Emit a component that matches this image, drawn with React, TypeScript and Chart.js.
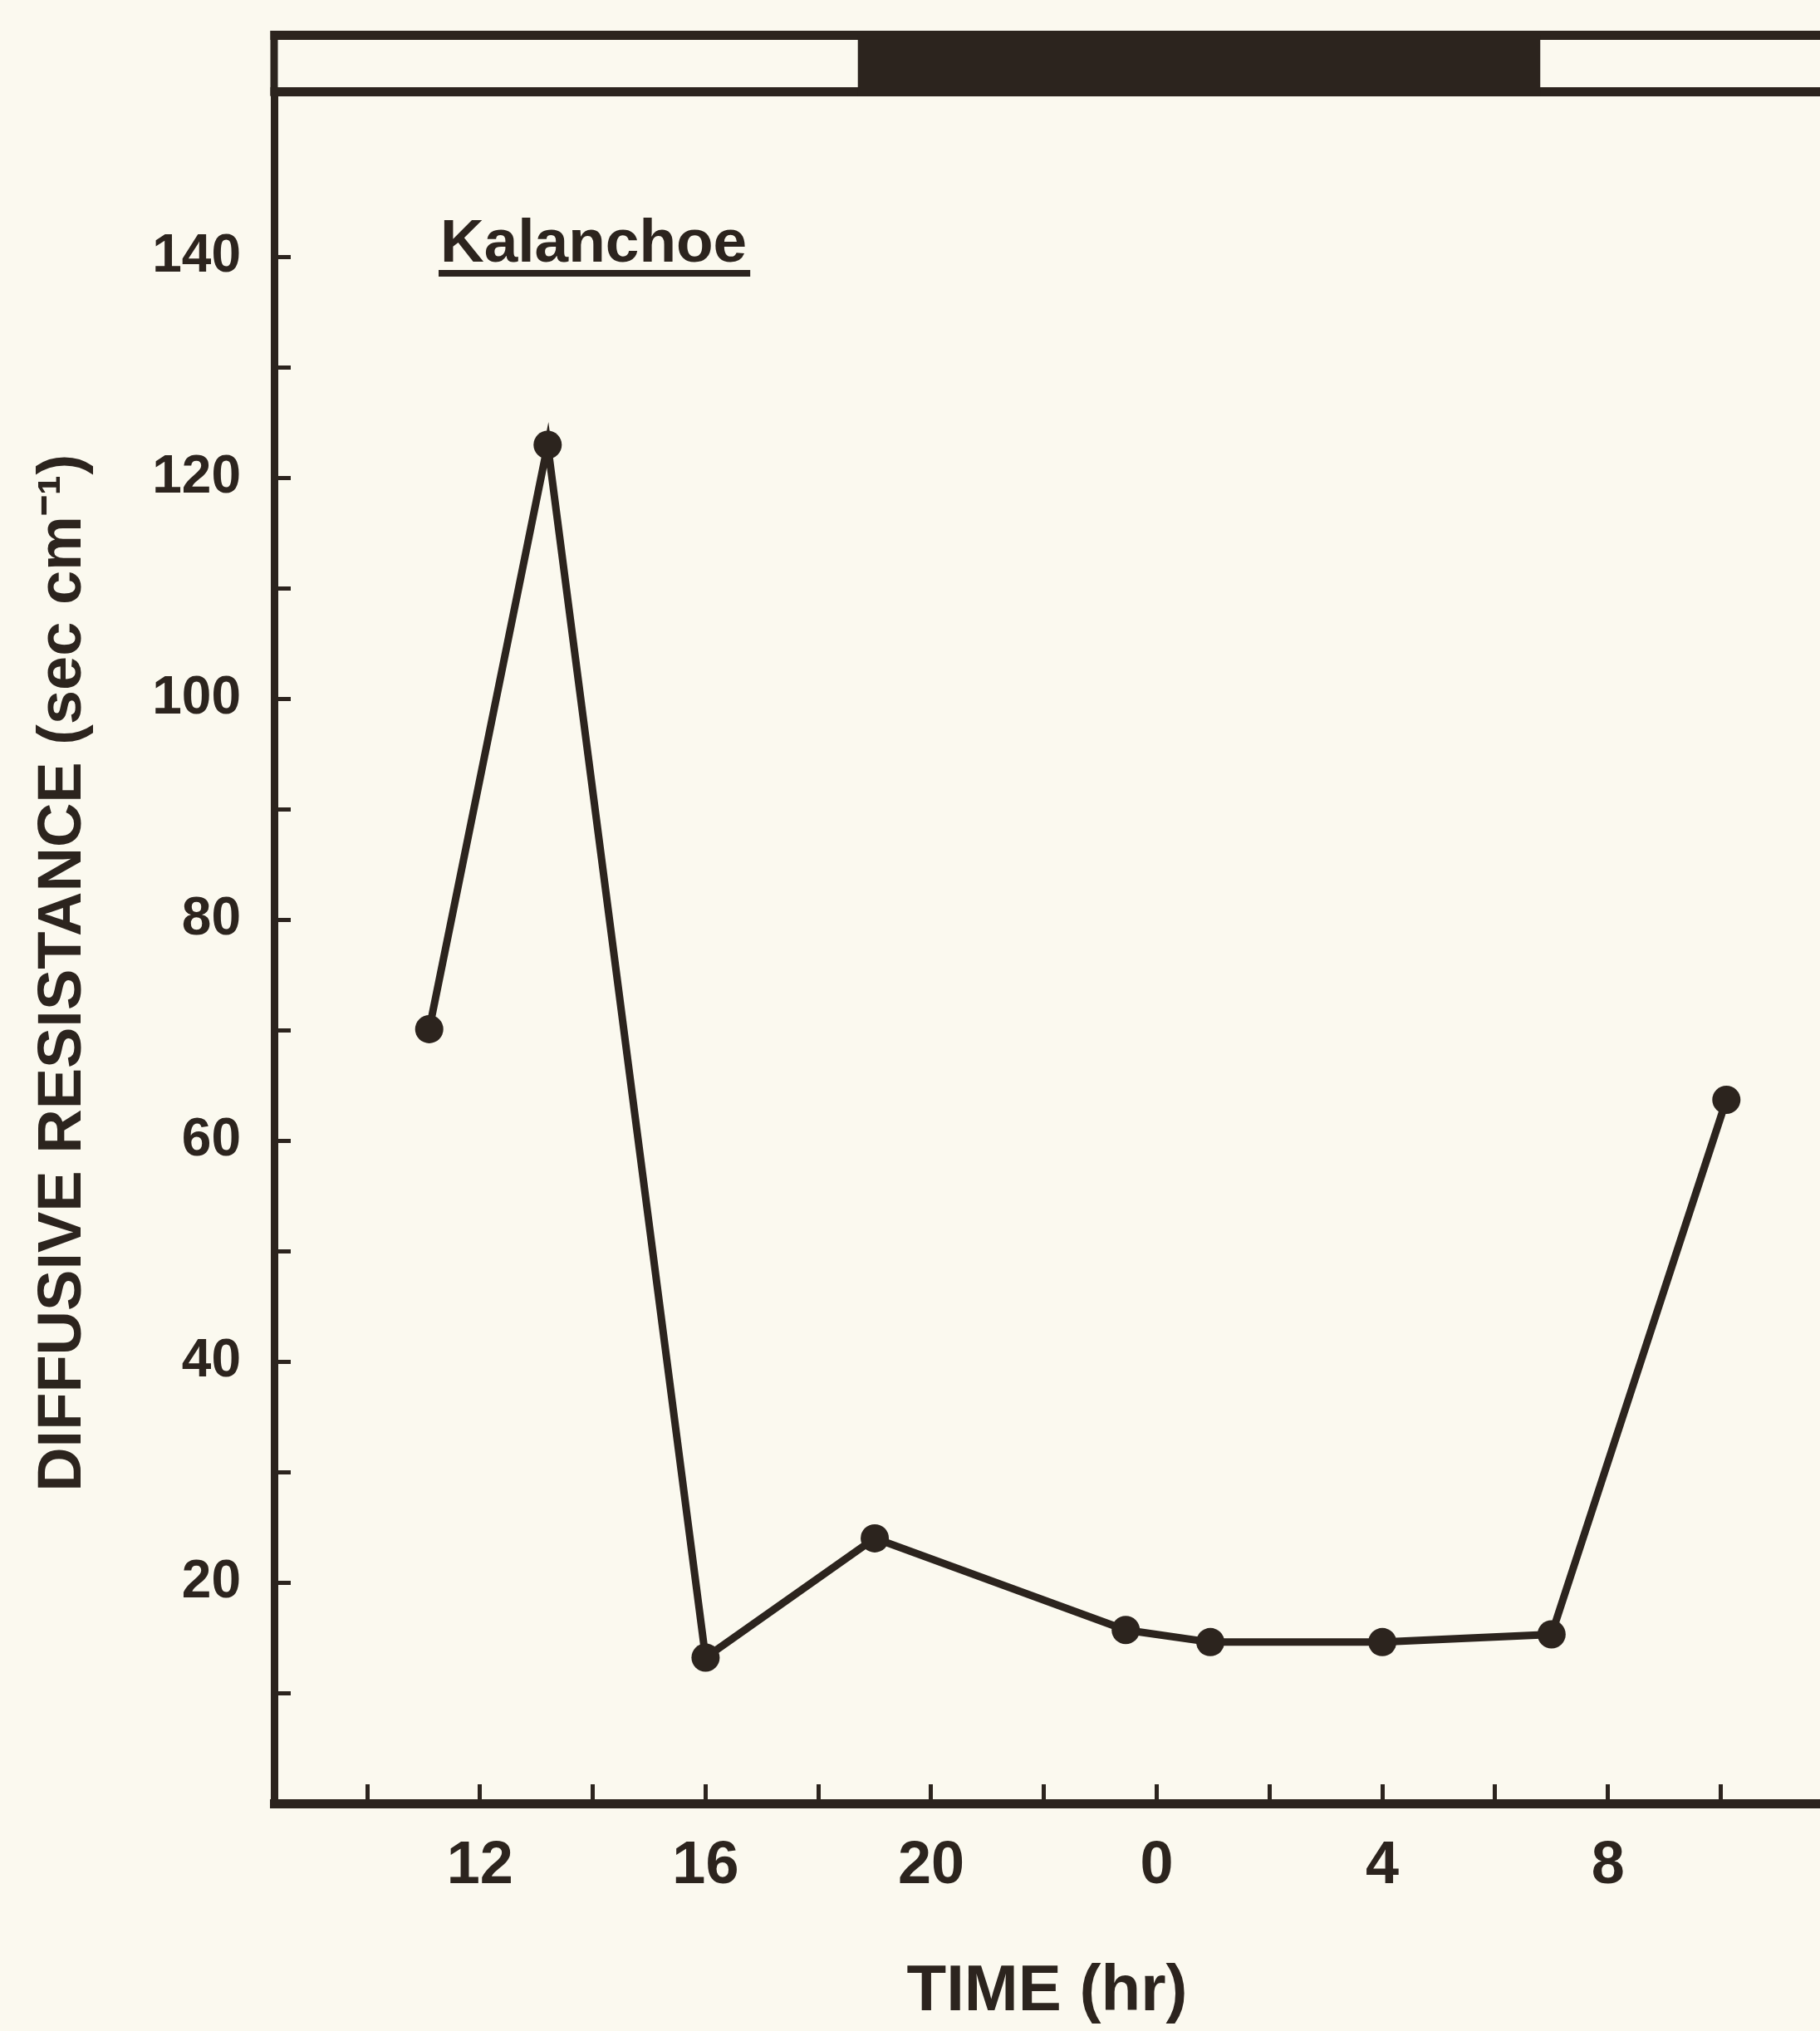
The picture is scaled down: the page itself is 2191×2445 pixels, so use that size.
import React, { useEffect, useRef } from "react";
import { Chart, registerables } from "chart.js";

Chart.register(...registerables);

// ---- data ----
const timeHours: number[] = [11.1, 13.2, 16.0, 19.0, 23.45, 24.95, 28.0, 31.0, 34.1];
const resistance: number[] = [70.1, 123, 13.2, 24, 15.7, 14.6, 14.6, 15.3, 63.7];
const xTickValues: number[] = [10, 12, 14, 16, 18, 20, 22, 24, 26, 28, 30, 32, 34];
const xLabelledTicks: number[] = [12, 16, 20, 24, 28, 32];
const yTickValues: number[] = [10, 20, 30, 40, 50, 60, 70, 80, 90, 100, 110, 120, 130, 140];
const darkStart = 18.7;
const darkEnd = 30.8;
const speciesLabel = "Kalanchoe";
const xTitle = "TIME (hr)";
const yTitle = "DIFFUSIVE RESISTANCE (sec cm\u207B\u00B9)\u00A0\u00A0\u00A0";

const INK = "#2c241e";
const BG = "#fbf9ef";
const FONT = "'Liberation Sans', Arial, Helvetica, sans-serif";

const decorPlugin = {
  id: "decor",
  afterDraw(chart: any) {
    const { ctx, chartArea } = chart;
    const { left, right, top } = chartArea;
    const xs = chart.scales.x;
    const barTop = 42;
    ctx.save();
    ctx.fillStyle = INK;
    // top line of light/dark bar
    ctx.fillRect(left - 4.5, barTop - 5, right - left + 10, 11);
    // bottom line of bar (top of plot)
    ctx.fillRect(left - 4.5, top - 5, right - left + 10, 11);
    // left edge extension
    ctx.fillRect(left - 4.5, barTop - 5, 9, top - barTop + 10);
    // dark period
    const x1 = xs.getPixelForValue(darkStart);
    const x2 = xs.getPixelForValue(darkEnd);
    ctx.fillRect(x1, barTop, x2 - x1, top + 6 - barTop);
    // species label
    ctx.font = `bold 73px ${FONT}`;
    ctx.textAlign = "left";
    ctx.textBaseline = "alphabetic";
    ctx.fillText(speciesLabel, 530, 315);
    const w = ctx.measureText(speciesLabel).width;
    ctx.fillRect(528, 325, w + 6, 8);
    ctx.restore();
  },
};

export default function App() {
  const ref = useRef<HTMLCanvasElement | null>(null);
  useEffect(() => {
    if (!ref.current) return;
    const chart = new Chart(ref.current, {
      type: "line",
      data: {
        datasets: [
          {
            data: timeHours.map((t, i) => ({ x: t, y: resistance[i] })),
            borderColor: INK,
            borderWidth: 9,
            pointRadius: 17,
            pointBackgroundColor: INK,
            pointBorderWidth: 0,
            tension: 0,
            clip: false as any,
          },
        ],
      },
      options: {
        animation: false,
        responsive: false,
        devicePixelRatio: 1,
        layout: { autoPadding: false, padding: { top: 110, left: 0, right: 0, bottom: 0 } },
        plugins: { legend: { display: false }, tooltip: { enabled: false } },
        scales: {
          x: {
            type: "linear",
            min: 8.35,
            max: 35.76,
            afterFit: (s: any) => {
              s.height = 274;
            },
            afterBuildTicks: (s: any) => {
              s.ticks = xTickValues.map((v) => ({ value: v }));
            },
            ticks: {
              autoSkip: false,
              maxRotation: 0,
              padding: 56,
              color: INK,
              font: { family: FONT, size: 72, weight: "bold" },
              callback: (v: any) => (xLabelledTicks.includes(Number(v)) ? String(Number(v) % 24) : ""),
            },
            grid: { drawOnChartArea: false, drawTicks: true, tickLength: -23, lineWidth: 5, color: INK },
            border: { display: true, width: 11, color: INK },
            title: {
              display: true,
              text: xTitle,
              color: INK,
              font: { family: FONT, size: 78, weight: "bold" },
              padding: { top: 0, bottom: 0 },
            },
          },
          y: {
            type: "linear",
            min: 0,
            max: 155,
            afterFit: (s: any) => {
              s.width = 330;
            },
            afterBuildTicks: (s: any) => {
              s.ticks = yTickValues.map((v) => ({ value: v }));
            },
            ticks: {
              autoSkip: false,
              padding: 60,
              color: INK,
              font: { family: FONT, size: 64, weight: "bold" },
              callback: (v: any) => (Number(v) % 20 === 0 ? String(v) : ""),
            },
            grid: { drawOnChartArea: false, drawTicks: true, tickLength: -20, lineWidth: 5, color: INK },
            border: { display: true, width: 9, color: INK },
            title: {
              display: true,
              text: yTitle,
              color: INK,
              font: { family: FONT, size: 74, weight: "bold" },
              padding: { top: 32, bottom: 0 },
            },
          },
        },
      } as any,
      plugins: [decorPlugin],
    });
    return () => chart.destroy();
  }, []);
  return (
    <div style={{ position: "absolute", left: 0, top: 0, width: 2191, height: 2445, background: BG }}>
      <canvas ref={ref} width={2191} height={2445} style={{ display: "block" }} />
    </div>
  );
}
